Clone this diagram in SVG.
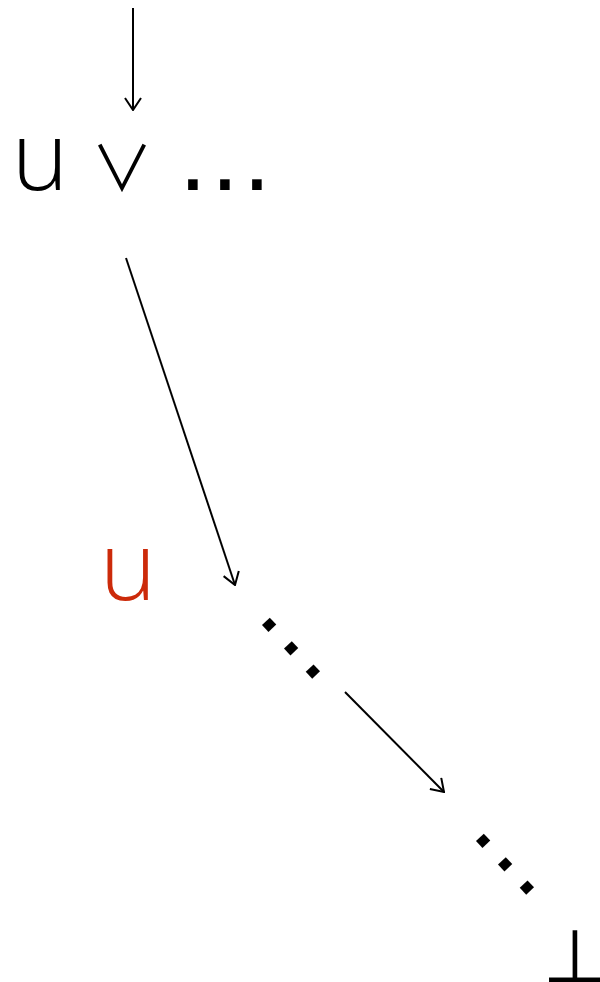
<svg xmlns="http://www.w3.org/2000/svg" width="600" height="982" viewBox="0 0 600 982">
<defs>
<style>
.t{font-family:"Liberation Sans","DejaVu Sans",sans-serif;font-size:100px;fill:#000}
.u{font-family:"Open Sans","Liberation Sans",sans-serif;font-weight:350;font-size:96px;fill:#000}
.sym{font-family:"DejaVu Sans",sans-serif;fill:#000}
.or{font-family:"Noto Sans CJK JP","DejaVu Sans",sans-serif;font-weight:350;fill:#000}
.e{stroke:#000;stroke-width:2;fill:none}
</style>
<marker id="ah" viewBox="0 0 14 18" refX="13" refY="9" markerWidth="14" markerHeight="18" markerUnits="userSpaceOnUse" orient="auto">
<path d="M1,1 L13,9 L1,17" fill="none" stroke="#000" stroke-width="2"/>
</marker>
</defs>
<rect width="600" height="982" fill="#fff"/>
<g id="top">
<text class="u" x="40" y="190" text-anchor="middle">u</text>
<text class="or" x="122" y="191" font-size="62" text-anchor="middle">∨</text>
<text class="t" x="193 225 257" y="190" text-anchor="middle">...</text>
</g>
<g id="red-u">
<text class="u" x="128" y="600" text-anchor="middle" style="fill:#cc2a0a">u</text>
</g>
<g id="dots1">
<text class="t" transform="translate(269,625) rotate(47)" x="0 32 64" y="5" text-anchor="middle">...</text>
</g>
<g id="dots2">
<text class="t" transform="translate(483,841) rotate(47)" x="0 32 64" y="5" text-anchor="middle">...</text>
</g>
<g id="bottom">
<text class="sym" x="575" y="982" font-size="74" text-anchor="middle">⊥</text>
</g>
<g id="edges">
<line class="e" x1="133" y1="8" x2="133" y2="110" marker-end="url(#ah)"/>
<line class="e" x1="126" y1="258" x2="235" y2="585" marker-end="url(#ah)"/>
<line class="e" x1="345" y1="692" x2="444" y2="792" marker-end="url(#ah)"/>
</g>
</svg>
